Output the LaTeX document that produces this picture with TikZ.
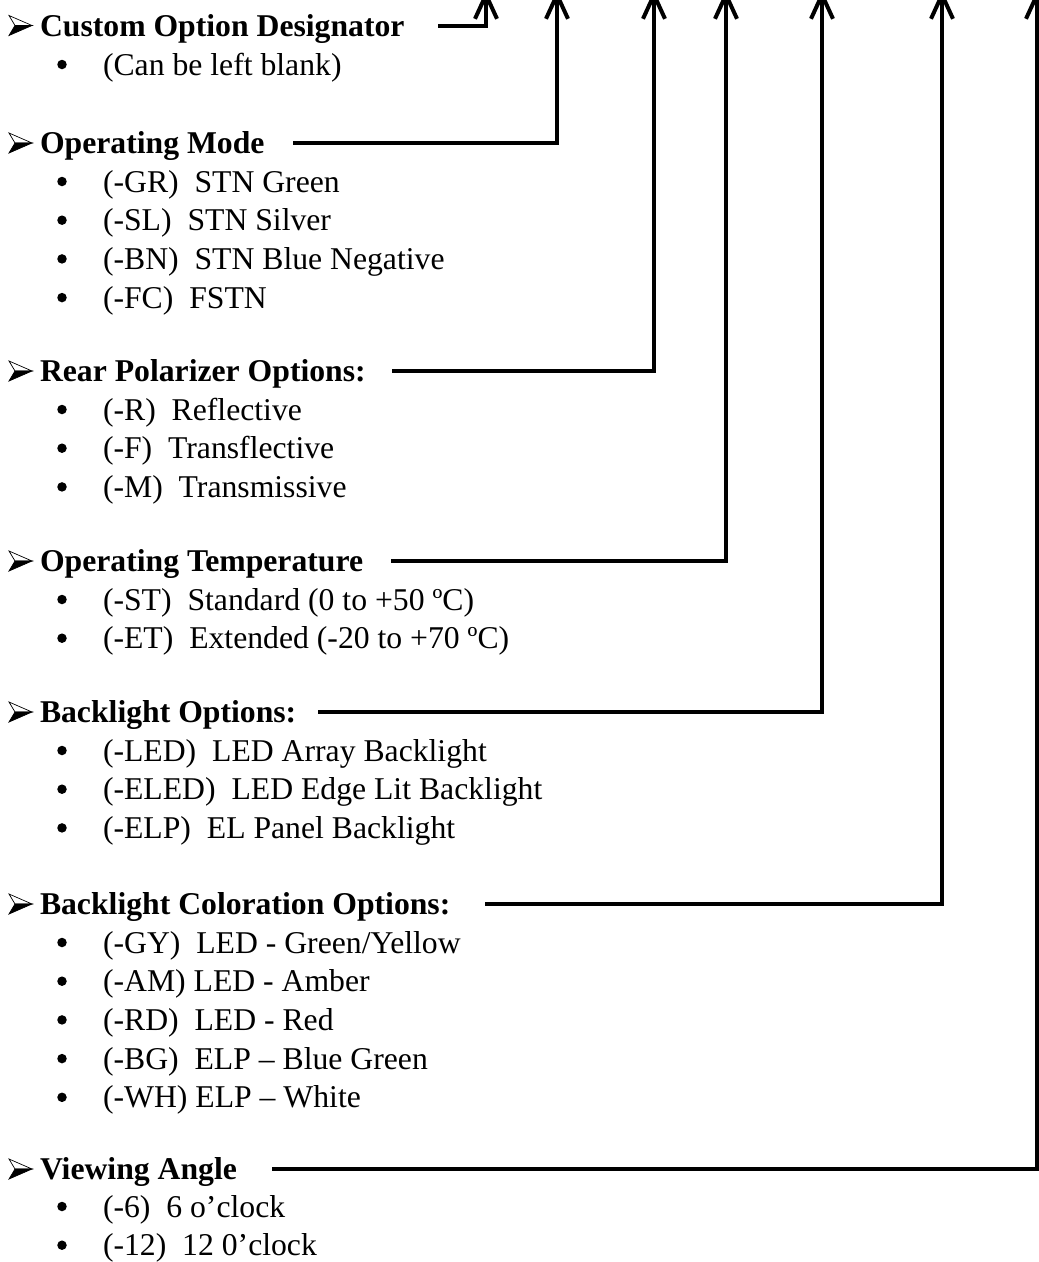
\documentclass[tikz,border=0pt]{standalone}
\usepackage{fontspec}
\setmainfont{Liberation Serif}
\usetikzlibrary{arrows.meta}
\begin{document}
\begin{tikzpicture}[x=1pt,y=-1pt,
  every node/.style={inner sep=0pt, outer sep=0pt},
  heading/.style={anchor=base west, font=\fontsize{31.7}{38}\selectfont\bfseries},
  itemtext/.style={anchor=base west, font=\fontsize{31.7}{38}\selectfont},
  bul/.style={circle, fill=black, minimum size=9.5pt},
  conn/.style={line width=4pt, line join=miter, -{Straight Barb[length=24pt,width=22pt]}},
  arrowbullet/.pic={
    \filldraw[fill=white, line width=0.7pt] (23,0) -- (0,-10) -- (6,0) -- cycle;
    \filldraw[fill=black, line width=0.7pt] (23,0) -- (6,0) -- (0,10) -- cycle;
  }]
\useasboundingbox (0,0) rectangle (1039,1262);
\clip (0,0) rectangle (1039,1262);
% ---------- headings ----------
\pic at (9,25.5) {arrowbullet};
\node[heading] (h1) at (40,36.5) {Custom Option Designator};
\pic at (9,143) {arrowbullet};
\node[heading] (h2) at (40,153.5) {Operating Mode};
\pic at (9,371) {arrowbullet};
\node[heading] (h3) at (40,381.5) {Rear Polarizer Options:};
\pic at (9,561) {arrowbullet};
\node[heading] (h4) at (40,571.5) {Operating Temperature};
\pic at (9,712) {arrowbullet};
\node[heading] (h5) at (40,722.5) {Backlight Options:};
\pic at (9,904) {arrowbullet};
\node[heading] (h6) at (40,914.5) {Backlight Coloration Options:};
\pic at (9,1169) {arrowbullet};
\node[heading] (h7) at (40,1179.5) {Viewing Angle};
% ---------- items ----------
\foreach \n/\y/\t in {
  a1/75/{(Can be left blank)},
  b1/192/{(-GR)\ \ STN Green},
  b2/230.7/{(-SL)\ \ STN Silver},
  b3/269.4/{(-BN)\ \ STN Blue Negative},
  b4/308.1/{(-FC)\ \ FSTN},
  c1/420/{(-R)\ \ Reflective},
  c2/458.7/{(-F)\ \ Transflective},
  c3/497.4/{(-M)\ \ Transmissive},
  d1/610/{(-ST)\ \ Standard (0 to +50 ºC)},
  d2/648.7/{(-ET)\ \ Extended (-20 to +70 ºC)},
  e1/761/{(-LED)\ \ LED Array Backlight},
  e2/799.7/{(-ELED)\ \ LED Edge Lit Backlight},
  e3/838.4/{(-ELP)\ \ EL Panel Backlight},
  f1/953/{(-GY)\ \ LED - Green/Yellow},
  f2/991.7/{(-AM)\ LED - Amber},
  f3/1030.4/{(-RD)\ \ LED - Red},
  f4/1069.1/{(-BG)\ \ ELP – Blue Green},
  f5/1107.8/{(-WH)\ ELP – White},
  g1/1217/{(-6)\ \ 6 o’clock},
  g2/1255.7/{(-12)\ \ 12 0’clock}}{
  \node[bul] (m\n) at (62,\y-10.5) {};
  \node[itemtext] (\n) at (103,\y) {\t};
}
% ---------- connectors ----------
\coordinate (s1) at (438,26);   \coordinate (t1) at (486,-10);
\coordinate (s2) at (293,143);  \coordinate (t2) at (557,-10);
\coordinate (s3) at (392,371);  \coordinate (t3) at (654,-10);
\coordinate (s4) at (391,561);  \coordinate (t4) at (726,-10);
\coordinate (s5) at (318,712);  \coordinate (t5) at (822,-10);
\coordinate (s6) at (485,904);  \coordinate (t6) at (942,-10);
\coordinate (s7) at (272,1169); \coordinate (t7) at (1037,-10);
\foreach \i in {1,...,7}{
  \draw[conn] (s\i) -| (t\i);
}
\end{tikzpicture}
\end{document}
